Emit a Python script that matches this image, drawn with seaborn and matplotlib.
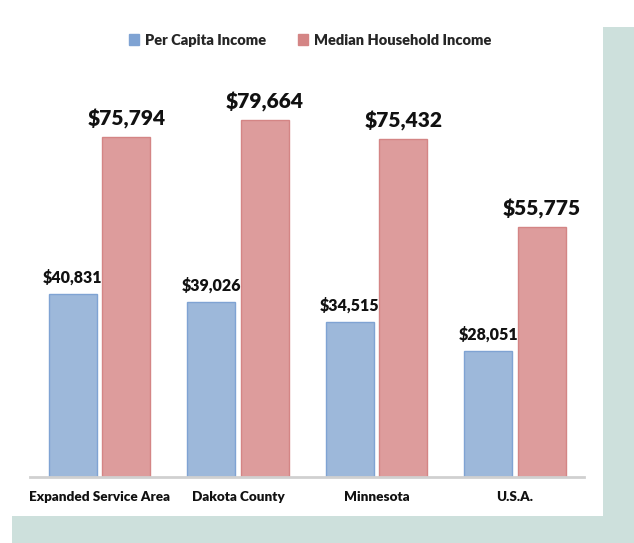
import pandas as pd
import matplotlib.pyplot as plt
import seaborn as sns
from matplotlib.patches import Rectangle, Patch

# values
areas = ["Expanded Service Area", "Dakota County", "Minnesota", "U.S.A."]
per_capita = [40831, 39026, 34515, 28051]
median_household = [75794, 79664, 75432, 55775]
series = ["Per Capita Income", "Median Household Income"]

df = pd.DataFrame({
    "Area": areas * 2,
    "Income": per_capita + median_household,
    "Series": [series[0]] * 4 + [series[1]] * 4,
})

sns.set_style("white")
plt.rcParams['font.family'] = ['Lato', 'DejaVu Sans']

fills = ["#9db8da", "#dd9c9c"]
edges = ["#7fa3d3", "#d48585"]

fig = plt.figure(figsize=(6.34, 5.43), dpi=100)
ax = fig.add_axes([0.0481, 0.1215, 0.873, 0.7675])

sns.barplot(data=df, x="Area", y="Income", hue="Series", palette=fills,
            width=0.773, gap=0.103, ax=ax, legend=False, saturation=1)

# bar outlines and value labels
for i, cont in enumerate(ax.containers):
    for bar in cont:
        bar.set_edgecolor(edges[i])
        bar.set_linewidth(1.0)
    vals = per_capita if i == 0 else median_household
    ax.bar_label(cont, labels=["${:,}".format(v) for v in vals], padding=6,
                 fontsize=11.5 if i == 0 else 15, fontweight="heavy", color="#111111")

ax.set_ylim(0, 93000)
ax.set_xlim(-0.5, 3.5)
ax.set_xlabel("")
ax.set_ylabel("")
ax.set_yticks([])
for s in ["top", "right", "left"]:
    ax.spines[s].set_visible(False)
ax.spines["bottom"].set_color("#d0d0d0")
ax.spines["bottom"].set_linewidth(2)
ax.tick_params(axis="x", length=0, pad=10)
for lab in ax.get_xticklabels():
    lab.set_fontweight("heavy")
    lab.set_fontsize(9.7)
    lab.set_color("#111111")

handles = [Patch(facecolor=edges[0], edgecolor=edges[0]),
           Patch(facecolor=edges[1], edgecolor=edges[1])]
leg = fig.legend(handles, series, loc="center", bbox_to_anchor=(0.489, 0.926), ncol=2,
                 frameon=False, handlelength=0.7, handleheight=0.7, handletextpad=0.4,
                 columnspacing=2.2, prop={"weight": "heavy", "size": 10.5})

# light teal border strips
teal = "#cde0dc"
fig.patches.append(Rectangle((0.951, 0), 0.049, 0.950, transform=fig.transFigure,
                             facecolor=teal, edgecolor="none", zorder=0))
fig.patches.append(Rectangle((0.019, 0), 0.981, 0.0497, transform=fig.transFigure,
                             facecolor=teal, edgecolor="none", zorder=0))

fig.savefig("out.png", dpi=100)
